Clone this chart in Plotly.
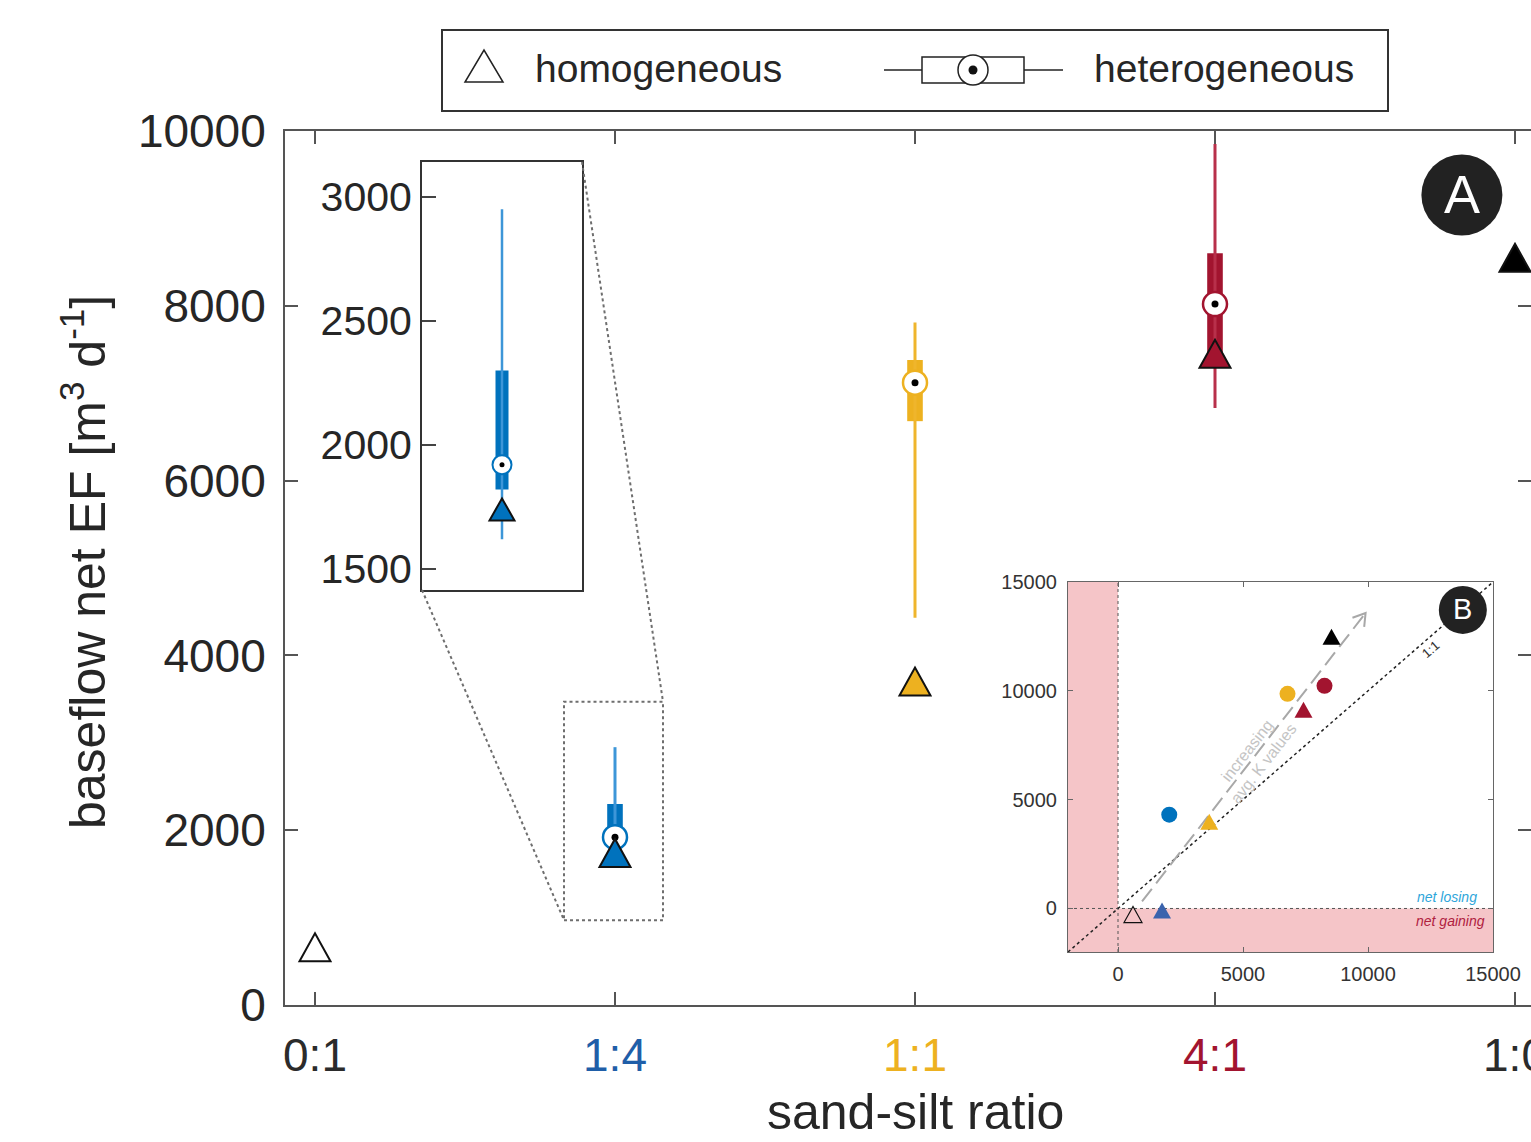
import math
import plotly.graph_objects as go

# ---------------- data ----------------
categories = ["0:1", "1:4", "1:1", "4:1", "1:0"]
tick_colors = ["#2b2b2b", "#1f5ea8", "#edb120", "#a2142f", "#2b2b2b"]
series_colors = ["#ffffff", "#0072bd", "#edb120", "#a2142f", "#000000"]
whisker_colors = ["#ffffff", "#3d96d8", "#efb52c", "#b8304b", "#000000"]

homogeneous = [660, 1740, 3700, 7450, 8550]
het_whisker_low = [None, 1620, 4430, 6830, None]
het_q1 = [None, 1820, 6680, 7400, None]
het_median = [None, 1920, 7120, 8020, None]
het_q3 = [None, 2300, 7380, 8600, None]
het_whisker_high = [None, 2950, 7810, 9850, None]

y_ticks = [0, 2000, 4000, 6000, 8000, 10000]
inset_a_ticks = [1500, 2000, 2500, 3000]
inset_a_range = [1415, 3141]
zoom_x = [0.83, 1.16]
zoom_y = [970, 3470]

# panel B
b_homog_x = [600, 1760, 3650, 7420, 8540]
b_homog_y = [-280, -90, 3990, 9130, 12480]
b_homog_colors = ["rgba(0,0,0,0)", "#3a63ad", "#edb120", "#a2142f", "#000000"]
b_het_x = [2050, 6780, 8260]
b_het_y = [4310, 9860, 10230]
b_het_colors = ["#0072bd", "#edb120", "#a2142f"]
b_ticks = [0, 5000, 10000, 15000]
b_range = [-2000, 15000]

FONT = "Liberation Sans, Arial, Helvetica, sans-serif"
TXT = "#262626"

# ---------------- geometry helpers ----------------
L, R, T, B = 285, 1531, 131, 1005
W, H = R - L, B - T
def pxx(px):
    return (px - L) / W
def pxy(py):
    return (B - py) / H

XR = [-0.1, 4 + 16 / 300]
def dx(x):
    return (x - XR[0]) / (XR[1] - XR[0])
def dy(y):
    return y / 10000

def tri_path(w, h):
    return f"M{-w/2},{-h/2} L{w/2},{-h/2} L0,{h/2} Z"

fig = go.Figure()
shapes = []
annotations = []

# ---------------- main panel ----------------
for i, cat in enumerate(categories):
    if het_median[i] is None:
        continue
    c = series_colors[i]
    fig.add_trace(go.Scatter(x=[i, i], y=[het_whisker_low[i], het_whisker_high[i]], mode="lines",
                             line=dict(color=whisker_colors[i], width=3), xaxis="x", yaxis="y"))
    fig.add_trace(go.Bar(x=[i], y=[het_q3[i] - het_q1[i]], base=[het_q1[i]], width=0.052,
                         marker=dict(color=c, line=dict(width=0)), xaxis="x", yaxis="y"))
    fig.add_trace(go.Scatter(x=[i], y=[het_median[i]], mode="markers",
                             marker=dict(size=24, color="white", line=dict(color=c, width=2.5)),
                             xaxis="x", yaxis="y"))
    fig.add_trace(go.Scatter(x=[i], y=[het_median[i]], mode="markers",
                             marker=dict(size=7, color="black"), xaxis="x", yaxis="y"))

for i, cat in enumerate(categories):
    shapes.append(dict(type="path", xref="x", yref="y", xsizemode="pixel", ysizemode="pixel",
                       xanchor=i, yanchor=homogeneous[i], path=tri_path(31, 28),
                       fillcolor=series_colors[i], line=dict(color="#111111", width=2), layer="above"))

# ---------------- inset A (zoom of 1:4) ----------------
k = 1
fig.add_trace(go.Scatter(x=[0, 0], y=[het_whisker_low[k], het_whisker_high[k]], mode="lines",
                         line=dict(color=whisker_colors[k], width=2.5), xaxis="x2", yaxis="y2"))
fig.add_trace(go.Bar(x=[0], y=[het_q3[k] - het_q1[k]], base=[het_q1[k]], width=0.1625,
                     marker=dict(color=series_colors[k], line=dict(width=0)), xaxis="x2", yaxis="y2"))
fig.add_trace(go.Scatter(x=[0], y=[het_median[k]], mode="markers",
                         marker=dict(size=19, color="white", line=dict(color=series_colors[k], width=2)),
                         xaxis="x2", yaxis="y2"))
fig.add_trace(go.Scatter(x=[0], y=[het_median[k]], mode="markers",
                         marker=dict(size=5, color="black"), xaxis="x2", yaxis="y2"))
shapes.append(dict(type="path", xref="x2", yref="y2", xsizemode="pixel", ysizemode="pixel",
                   xanchor=0, yanchor=homogeneous[k], path=tri_path(25, 22),
                   fillcolor=series_colors[k], line=dict(color="#111111", width=2), layer="above"))

# zoom rectangle and connectors
shapes.append(dict(type="rect", xref="x", yref="y", x0=zoom_x[0], x1=zoom_x[1], y0=zoom_y[0], y1=zoom_y[1],
                   line=dict(color="#6e6e6e", width=2, dash="dot"), layer="above"))
shapes.append(dict(type="line", xref="paper", yref="paper", x0=pxx(422), y0=pxy(590),
                   x1=dx(zoom_x[0]), y1=dy(zoom_y[0]), line=dict(color="#6e6e6e", width=2, dash="dot")))
shapes.append(dict(type="line", xref="paper", yref="paper", x0=pxx(582), y0=pxy(162),
                   x1=dx(zoom_x[1]), y1=dy(zoom_y[1]), line=dict(color="#6e6e6e", width=2, dash="dot")))

# ---------------- inset B ----------------
pink = "#f5c5c8"
shapes.append(dict(type="rect", xref="x3", yref="y3", x0=b_range[0], x1=0, y0=b_range[0], y1=b_range[1],
                   fillcolor=pink, line=dict(width=0), layer="below"))
shapes.append(dict(type="rect", xref="x3", yref="y3", x0=0, x1=b_range[1], y0=b_range[0], y1=0,
                   fillcolor=pink, line=dict(width=0), layer="below"))
shapes.append(dict(type="line", xref="x3", yref="y3", x0=0, x1=0, y0=b_range[0], y1=b_range[1],
                   line=dict(color="#555555", width=1, dash="dot"), layer="below"))
shapes.append(dict(type="line", xref="x3", yref="y3", x0=b_range[0], x1=b_range[1], y0=0, y1=0,
                   line=dict(color="#555555", width=1, dash="dot"), layer="below"))
shapes.append(dict(type="line", xref="x3", yref="y3", x0=b_range[0], y0=b_range[0], x1=b_range[1], y1=b_range[1],
                   line=dict(color="#222222", width=1.5, dash="3px,3px"), layer="below"))

# gray dashed arrow
arrow_start = (962, 321)
arrow_end = (9904, 13578)
shapes.append(dict(type="line", xref="x3", yref="y3", x0=arrow_start[0], y0=arrow_start[1],
                   x1=arrow_end[0], y1=arrow_end[1], line=dict(color="#a8a8a8", width=2, dash="16px,7px"),
                   layer="below"))
sx = 425 / (b_range[1] - b_range[0])
sy = 370 / (b_range[1] - b_range[0])
ux = (arrow_end[0] - arrow_start[0]) * sx
uy = (arrow_end[1] - arrow_start[1]) * sy
n = math.hypot(ux, uy)
ux, uy = ux / n, uy / n
pts = []
for a in (math.radians(32), -math.radians(32)):
    bx = -(ux * math.cos(a) - uy * math.sin(a)) * 14
    by = -(ux * math.sin(a) + uy * math.cos(a)) * 14
    pts.append((bx, by))
shapes.append(dict(type="path", xref="x3", yref="y3", xsizemode="pixel", ysizemode="pixel",
                   xanchor=arrow_end[0], yanchor=arrow_end[1],
                   path=f"M{pts[0][0]:.2f},{pts[0][1]:.2f} L0,0 L{pts[1][0]:.2f},{pts[1][1]:.2f}",
                   fillcolor="rgba(0,0,0,0)", line=dict(color="#a8a8a8", width=2), layer="below"))

fig.add_trace(go.Scatter(x=b_het_x, y=b_het_y, mode="markers",
                         marker=dict(size=16, color=b_het_colors, line=dict(width=0)),
                         xaxis="x3", yaxis="y3"))
for i in range(len(b_homog_x)):
    shapes.append(dict(type="path", xref="x3", yref="y3", xsizemode="pixel", ysizemode="pixel",
                       xanchor=b_homog_x[i], yanchor=b_homog_y[i], path=tri_path(18, 16),
                       fillcolor=b_homog_colors[i],
                       line=dict(color="#111111" if i == 0 else b_homog_colors[i], width=1.2 if i == 0 else 0),
                       layer="above"))

annotations += [
    dict(xref="x3", yref="y3", x=5493, y=6972, text="increasing<br>avg. K values", showarrow=False,
         textangle=-52, font=dict(family=FONT, size=16, color="#c4c4c4")),
    dict(xref="x3", yref="y3", x=12510, y=11880, text="1:1", showarrow=False,
         textangle=-41, font=dict(family=FONT, size=13, color="#333333")),
    dict(xref="x3", yref="y3", x=14435, y=505, text="<i>net losing</i>", showarrow=False,
         xanchor="right", font=dict(family=FONT, size=14, color="#2ea6da")),
    dict(xref="x3", yref="y3", x=14755, y=-596, text="<i>net gaining</i>", showarrow=False,
         xanchor="right", font=dict(family=FONT, size=14, color="#b0213f")),
]

# panel badges
shapes.append(dict(type="circle", xref="x3", yref="y3", xsizemode="pixel", ysizemode="pixel",
                   xanchor=13793, yanchor=13716, x0=-24, x1=24, y0=-24, y1=24,
                   fillcolor="#222222", line=dict(width=0), layer="above"))
annotations.append(dict(xref="x3", yref="y3", x=13793, y=13716, text="B", showarrow=False,
                        font=dict(family=FONT, size=29, color="white"), yshift=1))
shapes.append(dict(type="circle", xref="x", yref="y", xsizemode="pixel", ysizemode="pixel",
                   xanchor=3.823, yanchor=9268, x0=-40.5, x1=40.5, y0=-40.5, y1=40.5,
                   fillcolor="#222222", line=dict(width=0), layer="above"))
annotations.append(dict(xref="x", yref="y", x=3.823, y=9268, text="A", showarrow=False,
                        font=dict(family=FONT, size=54, color="white"), yshift=1))

# ---------------- legend (drawn) ----------------
shapes.append(dict(type="rect", xref="paper", yref="paper", x0=pxx(442), x1=pxx(1388), y0=pxy(111), y1=pxy(30),
                   line=dict(color="#333333", width=2), fillcolor="white"))
shapes.append(dict(type="path", xref="paper", yref="paper", xsizemode="pixel", ysizemode="pixel",
                   xanchor=pxx(484), yanchor=pxy(66), path=tri_path(38, 32),
                   fillcolor="white", line=dict(color="#222222", width=1.5)))
annotations.append(dict(xref="paper", yref="paper", x=pxx(533), y=pxy(68), text="homogeneous",
                        showarrow=False, xanchor="left", yanchor="middle",
                        font=dict(family=FONT, size=39, color=TXT)))
shapes.append(dict(type="line", xref="paper", yref="paper", x0=pxx(884), x1=pxx(1063), y0=pxy(70), y1=pxy(70),
                   line=dict(color="#222222", width=1.5)))
shapes.append(dict(type="rect", xref="paper", yref="paper", x0=pxx(922), x1=pxx(1024), y0=pxy(83), y1=pxy(57),
                   line=dict(color="#222222", width=1.5), fillcolor="white"))
shapes.append(dict(type="circle", xref="paper", yref="paper", xsizemode="pixel", ysizemode="pixel",
                   xanchor=pxx(973), yanchor=pxy(70), x0=-15, x1=15, y0=-15, y1=15,
                   line=dict(color="#222222", width=1.5), fillcolor="white"))
shapes.append(dict(type="circle", xref="paper", yref="paper", xsizemode="pixel", ysizemode="pixel",
                   xanchor=pxx(973), yanchor=pxy(70), x0=-4.5, x1=4.5, y0=-4.5, y1=4.5,
                   line=dict(width=0), fillcolor="#111111"))
annotations.append(dict(xref="paper", yref="paper", x=pxx(1092), y=pxy(68), text="heterogeneous",
                        showarrow=False, xanchor="left", yanchor="middle",
                        font=dict(family=FONT, size=39, color=TXT)))

# axis titles
annotations.append(dict(xref="paper", yref="paper", x=pxx(915), y=pxy(1112), text="sand-silt ratio",
                        showarrow=False, xanchor="center", yanchor="middle",
                        font=dict(family=FONT, size=50, color=TXT)))
annotations.append(dict(xref="paper", yref="paper", x=pxx(84), y=pxy(562),
                        text="baseflow net EF [m<sup>3</sup> d<sup>-1</sup>]", textangle=-90,
                        showarrow=False, xanchor="center", yanchor="middle",
                        font=dict(family=FONT, size=50, color=TXT)))

ticktext = [f'<span style="color:{tick_colors[i]}">{c}</span>' for i, c in enumerate(categories)]

axis_common = dict(showgrid=False, zeroline=False, showline=True, ticks="inside", automargin=False)

fig.update_layout(
    width=1531, height=1142, autosize=False,
    margin=dict(l=L, r=1531 - R, t=T, b=1142 - B, pad=0, autoexpand=False),
    paper_bgcolor="white", plot_bgcolor="white",
    showlegend=False, barmode="overlay",
    font=dict(family=FONT, color=TXT),
    xaxis=dict(axis_common, domain=[0, 1], range=XR, tickvals=list(range(len(categories))),
               ticktext=ticktext, linecolor="#555555", linewidth=2, mirror="ticks",
               ticklen=13, tickwidth=2, tickcolor="#555555", ticklabeloverflow="allow",
               tickfont=dict(family=FONT, size=46), ticklabelstandoff=9),
    yaxis=dict(axis_common, domain=[0, 1], range=[0, 10000], tickvals=y_ticks,
               ticktext=[str(v) for v in y_ticks],
               linecolor="#555555", linewidth=2, mirror="ticks",
               ticklen=13, tickwidth=2, tickcolor="#555555",
               tickfont=dict(family=FONT, size=46, color=TXT), ticklabelstandoff=8),
    xaxis2=dict(showgrid=False, zeroline=False, showline=True, mirror=True, linecolor="#333333", linewidth=2,
                domain=[pxx(422), pxx(582)], range=[-1, 1], showticklabels=False, ticks="",
                automargin=False, anchor="y2"),
    yaxis2=dict(showgrid=False, zeroline=False, showline=True, mirror=True, linecolor="#333333", linewidth=2,
                domain=[pxy(590), pxy(162)], range=inset_a_range, tickvals=inset_a_ticks,
                ticktext=[str(v) for v in inset_a_ticks], automargin=False,
                ticks="inside", ticklen=14, tickwidth=2, tickcolor="#444444",
                tickfont=dict(family=FONT, size=41, color=TXT), ticklabelstandoff=0, anchor="x2"),
    xaxis3=dict(showgrid=False, zeroline=False, showline=True, mirror="ticks", linecolor="#666666", linewidth=1.2,
                domain=[pxx(1068), pxx(1493)], range=b_range, tickvals=b_ticks,
                ticktext=[str(v) for v in b_ticks], automargin=False,
                ticks="inside", ticklen=5, tickwidth=1, tickcolor="#666666",
                tickfont=dict(family=FONT, size=20, color="#333333"), ticklabelstandoff=4, anchor="y3"),
    yaxis3=dict(showgrid=False, zeroline=False, showline=True, mirror="ticks", linecolor="#666666", linewidth=1.2,
                domain=[pxy(952), pxy(582)], range=b_range, tickvals=b_ticks,
                ticktext=[str(v) for v in b_ticks], automargin=False,
                ticks="inside", ticklen=5, tickwidth=1, tickcolor="#666666",
                tickfont=dict(family=FONT, size=20, color="#333333"), ticklabelstandoff=6, anchor="x3"),
    shapes=shapes,
    annotations=annotations,
)

fig.write_html("out.html",
               config={"responsive": False, "displayModeBar": False},
               post_script="document.body.style.margin='0px';document.body.style.overflow='hidden';")
